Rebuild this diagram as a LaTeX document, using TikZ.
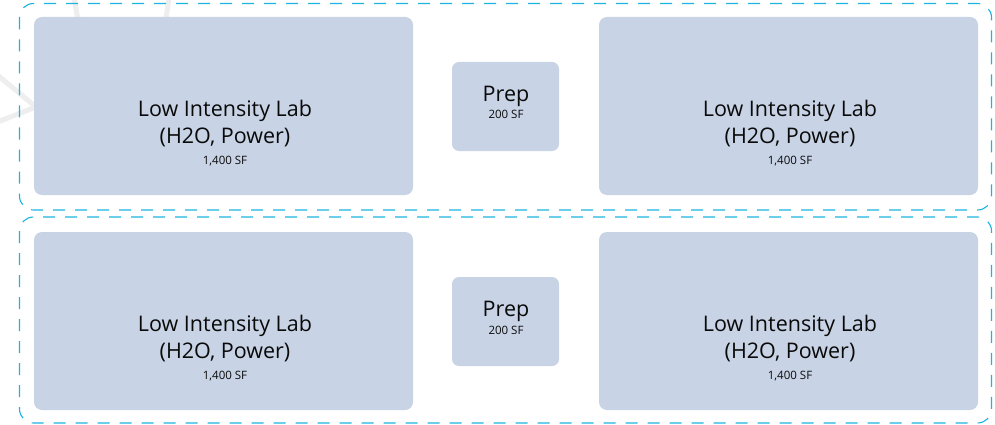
\documentclass[tikz,border=0pt]{standalone}
\usepackage{fontspec}
\setmainfont{Open Sans}
\begin{document}
\begin{tikzpicture}[x=1pt,y=-1pt,
  zonebox/.style={draw=zonecyan, line width=1.1pt, dash pattern=on 12pt off 10pt, rounded corners=14pt},
  labbox/.style={fill=roomfill, rounded corners=8pt},
  prepbox/.style={fill=roomfill, rounded corners=7pt},
  bigtxt/.style={anchor=base, inner sep=0pt, text=inkblack, font=\fontsize{21.5}{24}\selectfont},
  smalltxt/.style={anchor=base, inner sep=0pt, text=inkblack, font=\fontsize{11.5}{13}\selectfont},
  mark stroke/.style={draw=gray!13, line width=5pt}
]
\definecolor{zonecyan}{HTML}{1CB5E0}
\definecolor{roomfill}{HTML}{C8D3E5}
\definecolor{inkblack}{HTML}{0A0A0A}

\useasboundingbox (0,0) rectangle (995,425);
\fill[white] (0,0) rectangle (995,425);

% faint background marks
\draw[mark stroke] (-5,73) -- (36,107) -- (-5,123);
\draw[mark stroke] (74,-2) -- (79,25);
\draw[mark stroke] (169,-2) -- (165,25);

% two zones, each holding two labs and a prep room
\foreach \row/\dy in {top/0, bot/215} {
  \begin{scope}[yshift=-\dy]
    \node[labbox, minimum width=379pt, minimum height=178pt, inner sep=0pt] (lab-\row-l) at (223.5,106) {};
    \node[labbox, minimum width=379pt, minimum height=178pt, inner sep=0pt] (lab-\row-r) at (788.5,106) {};
    \node[prepbox, minimum width=107pt, minimum height=89pt, inner sep=0pt] (prep-\row) at (505.5,106.5) {};

    \node[bigtxt] (lab-\row-l-a) at (225,116.5) {Low Intensity Lab};
    \node[bigtxt] (lab-\row-l-b) at (225,143.5) {(H2O, Power)};
    \node[smalltxt] (lab-\row-l-c) at (225,164) {1,400 SF};

    \node[bigtxt] (lab-\row-r-a) at (790,116.5) {Low Intensity Lab};
    \node[bigtxt] (lab-\row-r-b) at (790,143.5) {(H2O, Power)};
    \node[smalltxt] (lab-\row-r-c) at (790,164) {1,400 SF};

    \node[bigtxt] (prep-\row-a) at (506,101.5) {Prep};
    \node[smalltxt] (prep-\row-b) at (506,119) {200 SF};
  \end{scope}
}

\draw[zonebox] (19.5,3.5) rectangle (991.5,210);
\draw[zonebox] (19.5,217) rectangle (991.5,423);
\end{tikzpicture}
\end{document}
